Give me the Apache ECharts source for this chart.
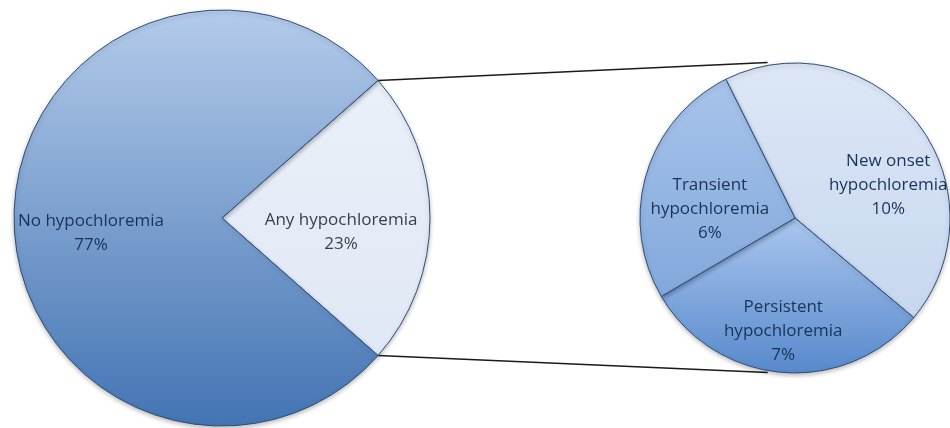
<!DOCTYPE html>
<html>
<head>
<meta charset="utf-8">
<script src="https://cdn.jsdelivr.net/npm/echarts@6/dist/echarts.min.js"></script>
<style>
  html, body { margin: 0; padding: 0; background: #ffffff; }
  #chart { width: 950px; height: 428px; }
</style>
</head>
<body>
<div id="chart"></div>
<script>
// Overall split of patients
const mainNames = ['Any hypochloremia', 'No hypochloremia'];
const mainValues = [23, 77];

// Breakdown of the "Any hypochloremia" share
const subNames = ['New onset\nhypochloremia', 'Persistent\nhypochloremia', 'Transient\nhypochloremia'];
const subValues = [10, 7, 6];

// Geometry of the two pies
const MAIN_C = [222, 218], MAIN_R = 208;
const SUB_C = [795, 218], SUB_R = 155;
const total = mainValues.reduce((a, b) => a + b, 0);
const halfAngle = mainValues[0] / total * 180;   // exploded slice centred on 3 o'clock

function vGrad(top, bottom) {
  return {
    type: 'linear', x: 0, y: 0, x2: 0, y2: 1,
    colorStops: [{ offset: 0, color: top }, { offset: 1, color: bottom }]
  };
}

const mainStyles = [
  { color: vGrad('#eaf0f9', '#e0e8f5'), label: { offset: [12, 14], color: '#3a3f4a' } },
  { color: vGrad('#b4cbeb', '#4374b3'), label: { offset: [-24, 15] } }
];
const subStyles = [
  { color: vGrad('#dde7f6', '#c7d7ef'), label: { offset: [30, 17] } },
  { color: vGrad('#a9c6ee', '#5889cc'), label: { offset: [-5, 33] } },
  { color: vGrad('#a8c4ea', '#82a8dc'), label: { offset: [-8, 14] } }
];

const labelBase = {
  show: true,
  position: 'inside',
  fontFamily: 'Open Sans',
  fontSize: 17,
  lineHeight: 24,
  color: '#1a3358',
  formatter: p => p.name + '\n' + p.value + '%'
};

const itemBase = {
  borderColor: '#2e4f7c',
  borderWidth: 1,
  shadowColor: 'rgba(0,0,0,0.25)',
  shadowBlur: 4,
  shadowOffsetY: 2
};

function pt(c, r, deg) {
  const a = deg * Math.PI / 180;
  return [c[0] + r * Math.cos(a), c[1] - r * Math.sin(a)];
}

// Connector lines from the exploded slice to the breakdown pie
const p1 = pt(MAIN_C, MAIN_R, halfAngle);
const p2 = pt(MAIN_C, MAIN_R, -halfAngle);
const q1 = pt(SUB_C, SUB_R + 3, 100);
const q2 = pt(SUB_C, SUB_R + 2, -100);

const chart = echarts.init(document.getElementById('chart'), null, { renderer: 'canvas' });
chart.setOption({
  animation: false,
  backgroundColor: '#ffffff',
  graphic: [
    { type: 'line', shape: { x1: p1[0], y1: p1[1], x2: q1[0], y2: q1[1] }, style: { stroke: '#1a1a1a', lineWidth: 1.5 }, z: 1 },
    { type: 'line', shape: { x1: p2[0], y1: p2[1], x2: q2[0], y2: q2[1] }, style: { stroke: '#1a1a1a', lineWidth: 1.5 }, z: 1 }
  ],
  series: [
    {
      type: 'pie',
      center: MAIN_C,
      radius: [0, MAIN_R],
      startAngle: halfAngle,
      clockwise: true,
      avoidLabelOverlap: false,
      label: labelBase,
      labelLine: { show: false },
      itemStyle: itemBase,
      emphasis: { disabled: true },
      data: mainNames.map((n, i) => ({
        name: n, value: mainValues[i],
        itemStyle: { color: mainStyles[i].color },
        label: mainStyles[i].label
      }))
    },
    {
      type: 'pie',
      center: SUB_C,
      radius: [0, SUB_R],
      startAngle: 116.5,
      clockwise: true,
      avoidLabelOverlap: false,
      label: labelBase,
      labelLine: { show: false },
      itemStyle: itemBase,
      emphasis: { disabled: true },
      data: subNames.map((n, i) => ({
        name: n, value: subValues[i],
        itemStyle: { color: subStyles[i].color },
        label: subStyles[i].label
      }))
    }
  ]
});
</script>
</body>
</html>
